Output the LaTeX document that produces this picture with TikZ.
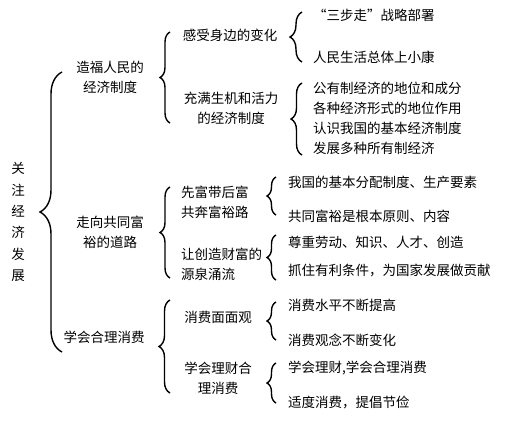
\documentclass[tikz,border=0pt]{standalone}
\usepackage{fontspec}
\newfontfamily\cjk{Noto Sans CJK SC}
\usetikzlibrary{decorations.pathreplacing}
\tikzset{
  txt/.style={font=\cjk\fontsize{13.5}{20}\selectfont, inner sep=0pt, align=center},
  leaf/.style={txt, anchor=west, align=left},
  brc/.style={decorate, decoration={brace, amplitude=#1}, line width=1.4pt},
  brc/.default=10pt
}
\begin{document}
\begin{tikzpicture}[x=1pt, y=-1pt]
  \useasboundingbox (0,0) rectangle (513,429);
  % root
  \node[txt, font=\cjk\fontsize{13.5}{21.3}\selectfont] (root) at (18,222) {关\\注\\经\\济\\发\\展};
  \draw[brc=22pt] (62,352) -- (62,72);
  % first level
  \node[txt] (zf) at (110,77) {造福人民的\\经济制度};
  \node[txt] (gt) at (110,232) {走向共同富\\裕的道路};
  \node[txt] (xf) at (104,337) {学会合理消费};
  \draw[brc] (170,123) -- (170,32);
  \draw[brc] (170,278) -- (170,187);
  \draw[brc=11pt] (170,393) -- (170,300);
  % second level
  \node[txt] (gs) at (230,35) {感受身边的变化};
  \node[txt] (cm) at (231,108) {充满生机和活力\\的经济制度};
  \node[leaf] (xfd) at (181,202) {先富带后富\\共奔富裕路};
  \node[leaf] (rcz) at (181,264) {让创造财富的\\源泉涌流};
  \node[txt] (mm) at (218,317) {消费面面观};
  \node[txt] (lc) at (218,378) {学会理财合\\理消费};
  \draw[brc=12pt] (302,62) -- (302,12);
  \draw[brc=11pt] (302,155) -- (302,83);
  \draw[brc=9pt] (276,215) -- (276,177);
  \draw[brc=9pt] (276,280) -- (276,235);
  \draw[brc=9pt] (276,340) -- (276,302);
  \draw[brc=9pt] (276,403) -- (276,363);
  % leaves
  \node[leaf] (sbz) at (313,15) {“三步走”战略部署};
  \node[leaf] (xk) at (313,57) {人民生活总体上小康};
  \node[leaf] (gy) at (313,88) {公有制经济的地位和成分};
  \node[leaf] (gz) at (313,108) {各种经济形式的地位作用};
  \node[leaf] (rs) at (313,128) {认识我国的基本经济制度};
  \node[leaf] (fz) at (313,148) {发展多种所有制经济};
  \node[leaf] (fp) at (288,182) {我国的基本分配制度、生产要素};
  \node[leaf] (yz) at (288,216) {共同富裕是根本原则、内容};
  \node[leaf] (zz) at (288,242) {尊重劳动、知识、人才、创造};
  \node[leaf] (zh) at (288,270) {抓住有利条件，为国家发展做贡献};
  \node[leaf] (sp) at (288,305) {消费水平不断提高};
  \node[leaf] (gn) at (288,340) {消费观念不断变化};
  \node[leaf] (lcx) at (288,368) {学会理财,学会合理消费};
  \node[leaf] (sd) at (288,403) {适度消费，提倡节俭};
\end{tikzpicture}
\end{document}
